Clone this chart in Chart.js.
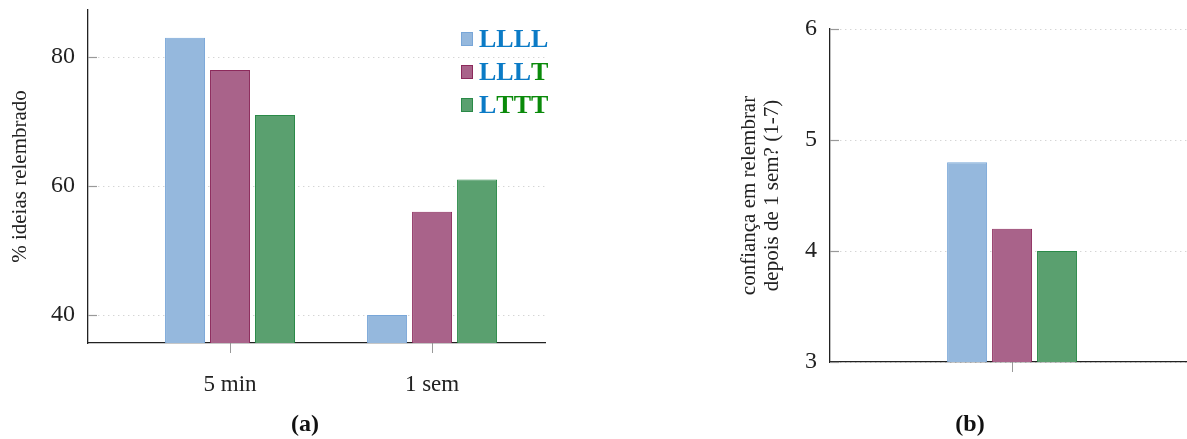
<!DOCTYPE html>
<html>
<head>
<meta charset="utf-8">
<script src="https://cdn.jsdelivr.net/npm/chart.js@4"></script>
<style>
body { margin: 0; background: #fff; overflow: hidden; }
#wa { position: absolute; left: 0; top: 0; width: 610px; height: 439px; }
#wb { position: absolute; left: 730px; top: 0; width: 457px; height: 439px; }
</style>
</head>
<body>
<div id="wa"><canvas id="chartA"></canvas></div>
<div id="wb"><canvas id="chartB"></canvas></div>
<script>
// data
const seriesNames = ['LLLL', 'LLLT', 'LTTT'];
const timeLabels = ['5 min', '1 sem'];
const recallLLLL = [83, 40];
const recallLLLT = [78, 56];
const recallLTTT = [71, 61];
const confLLLL = [4.8];
const confLLLT = [4.2];
const confLTTT = [4.0];
const yTicksA = [40, 60, 80];
const yTicksB = [3, 4, 5, 6];

const fills = ['#95b8dd', '#a9638a', '#5aa06f'];
const borders = ['#78a6d8', '#8c2a5c', '#2a8a48'];
const letterColors = { L: '#0b7bc6', T: '#0a8a0a' };

Chart.defaults.font.family = '"Liberation Serif", "Times New Roman", serif';
Chart.defaults.color = '#222';

// legend with coloured letters, (a)/(b) captions, short inner y tick marks
const decor = {
  id: 'decor',
  beforeDatasetsDraw(chart) {
    const ctx = chart.ctx;
    const y = chart.scales.y;
    const left = chart.chartArea.left;
    ctx.save();
    ctx.strokeStyle = '#999';
    ctx.lineWidth = 1.2;
    y.ticks.forEach((t, i) => {
      const py = Math.round(y.getPixelForTick(i)) + 0.5;
      ctx.beginPath();
      ctx.moveTo(left, py);
      ctx.lineTo(left + 9, py);
      ctx.stroke();
    });
    ctx.restore();
  },
  afterDraw(chart, args, opts) {
    const ctx = chart.ctx;
    ctx.save();
    if (opts.legend) {
      ctx.font = 'bold 26px "Liberation Serif", serif';
      ctx.textBaseline = 'middle';
      seriesNames.forEach((name, i) => {
        const cy = 39 + i * 33;
        ctx.fillStyle = fills[i];
        ctx.strokeStyle = borders[i];
        ctx.lineWidth = 1;
        ctx.fillRect(461, cy - 7, 12, 14);
        ctx.strokeRect(461.5, cy - 6.5, 11, 13);
        let x = 479;
        for (const ch of name) {
          ctx.fillStyle = letterColors[ch];
          ctx.fillText(ch, x, cy + 1);
          x += ctx.measureText(ch).width;
        }
      });
    }
    ctx.font = 'bold 24px "Liberation Serif", serif';
    ctx.fillStyle = '#111';
    ctx.textAlign = 'center';
    ctx.textBaseline = 'middle';
    ctx.fillText(opts.caption, opts.cx, 425);
    ctx.restore();
  }
};

function makeSets(arrs) {
  return arrs.map((vals, i) => ({
    label: seriesNames[i],
    data: vals.map((v, j) => ({ x: j, y: v })),
    backgroundColor: fills[i],
    borderColor: borders[i],
    borderWidth: 1
  }));
}

function fitY(width) {
  return s => { s.width = width; s.paddingTop = 0; s.paddingBottom = 0; };
}

new Chart(document.getElementById('chartA'), {
  type: 'bar',
  data: { datasets: makeSets([recallLLLL, recallLLLT, recallLTTT]) },
  plugins: [decor],
  options: {
    responsive: true,
    maintainAspectRatio: false,
    animation: false,
    categoryPercentage: 0.668,
    barPercentage: 0.889,
    layout: { padding: { top: 10, right: 65, left: 0, bottom: 0 } },
    plugins: {
      legend: { display: false },
      tooltip: { enabled: false },
      decor: { legend: true, caption: '(a)', cx: 305 }
    },
    scales: {
      x: {
        type: 'linear',
        offset: false,
        min: -0.703,
        max: 1.559,
        afterBuildTicks: s => { s.ticks = timeLabels.map((_, i) => ({ value: i })); },
        afterFit: s => { s.height = 96; },
        ticks: {
          callback: v => timeLabels[v],
          font: { size: 23 },
          padding: 18,
          maxRotation: 0
        },
        grid: { offset: false, drawOnChartArea: false, drawTicks: true, tickLength: 10, tickColor: '#999' },
        border: { display: true, color: '#222', width: 1.3 }
      },
      y: {
        min: 35.66,
        max: 87.3,
        afterBuildTicks: s => { s.ticks = yTicksA.map(v => ({ value: v })); },
        afterFit: fitY(88),
        ticks: { font: { size: 24 }, padding: 13 },
        title: { display: true, text: '% ideias relembrado', font: { size: 21 }, padding: { top: 8, bottom: 0 } },
        grid: { color: '#c4c4c4', drawTicks: false, lineWidth: 1 },
        border: { display: true, color: '#222', width: 1.3, dash: [1, 4] }
      }
    }
  }
});

new Chart(document.getElementById('chartB'), {
  type: 'bar',
  data: { datasets: makeSets([confLLLL, confLLLT, confLTTT]) },
  plugins: [decor],
  options: {
    responsive: true,
    maintainAspectRatio: false,
    animation: false,
    categoryPercentage: 0.378,
    barPercentage: 0.889,
    layout: { padding: { top: 29, right: 0, left: 0, bottom: 0 } },
    plugins: {
      legend: { display: false },
      tooltip: { enabled: false },
      decor: { legend: false, caption: '(b)', cx: 240 }
    },
    scales: {
      x: {
        type: 'linear',
        offset: false,
        min: -0.51,
        max: 0.49,
        afterBuildTicks: s => { s.ticks = [{ value: 0 }]; },
        afterFit: s => { s.height = 77; },
        ticks: { callback: () => '', padding: 0 },
        grid: { offset: false, drawOnChartArea: false, drawTicks: true, tickLength: 10, tickColor: '#999' },
        border: { display: true, color: '#222', width: 1.3 }
      },
      y: {
        min: 3,
        max: 6,
        afterBuildTicks: s => { s.ticks = yTicksB.map(v => ({ value: v })); },
        afterFit: fitY(100),
        ticks: { font: { size: 24 }, padding: 13 },
        title: {
          display: true,
          text: ['confiança em relembrar', 'depois de 1 sem? (1-7)'],
          font: { size: 21, lineHeight: 1.1 },
          padding: { top: 8, bottom: 0 }
        },
        grid: { color: '#c4c4c4', drawTicks: false, lineWidth: 1 },
        border: { display: true, color: '#222', width: 1.3, dash: [1, 4] }
      }
    }
  }
});
</script>
</body>
</html>
